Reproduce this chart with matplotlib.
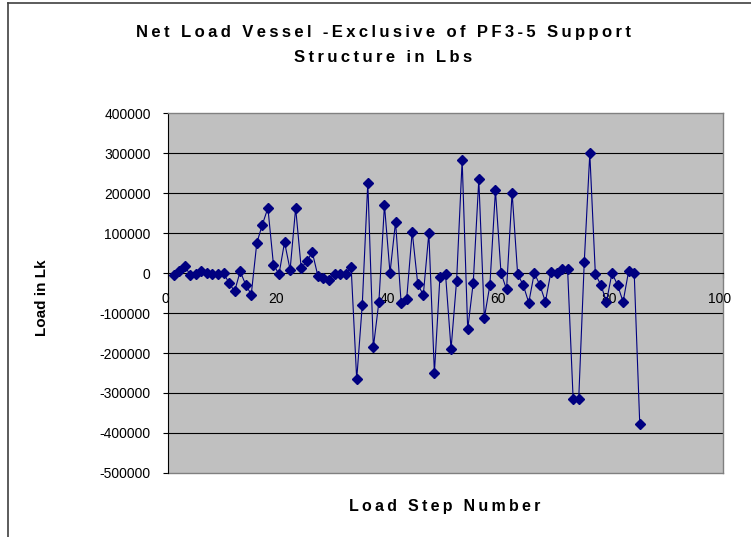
import numpy as np
import matplotlib
matplotlib.use("Agg")
import matplotlib.pyplot as plt
import matplotlib.transforms as mtransforms

plt.rcParams['font.family'] = ['Liberation Sans', 'DejaVu Sans']

# net load per load step (lbs)
load = [
    -4000, 5000, 17000, -4000, -3000, 5000, 0, -2500, -2500, 0,
    -25000, -46000, 4000, -29000, -54000, 75000, 121000, 162500, 21000, -3000,
    77000, 8000, 162500, 12500, 29000, 52000, -7000, -12500, -17000, -2500,
    -2500, -2500, 14000, -266000, -80000, 226000, -186000, -72000, 170000, 0,
    128000, -74000, -66000, 103000, -27500, -55000, 100000, -250000, -9000, -2000,
    -190000, -19000, 282000, -141000, -24000, 234000, -112000, -30000, 207000, 0,
    -41000, 201000, -3000, -30000, -74000, 0, -30000, -72000, 3000, 0,
    9000, 9000, -316000, -316000, 27000, 299000, -2500, -30000, -72000, 0,
    -30000, -72000, 5000, 0, -377000,
]
steps = np.arange(1, len(load) + 1)

x_ticks = [0, 20, 40, 60, 80, 100]
y_ticks = [-500000, -400000, -300000, -200000, -100000, 0,
           100000, 200000, 300000, 400000]

title_1 = 'Net Load Vessel -Exclusive of PF3-5 Support'
title_2 = 'Structure in Lbs'
x_label = 'Load Step Number'
y_label = 'Load in Lk'


def spaced(s):
    # loose letter spacing like the old spreadsheet chart
    return '\u2009'.join(s)


W, H = 751, 537
fig = plt.figure(figsize=(W / 100, H / 100), dpi=100)
ax = fig.add_axes([168 / W, 64 / H, 555 / W, 360 / H])
ax.set_facecolor('#c0c0c0')

for v in y_ticks[1:-1]:
    if v != 0:
        ax.axhline(v, color='black', lw=0.8, zorder=1)

ax.plot(steps, load, color='#000080', lw=0.8, marker='D', ms=5,
        mfc='#000080', mec='#000080', zorder=3)

ax.set_xlim(0, 100)
ax.set_ylim(-500000, 400000)
ax.set_xticks(x_ticks)
ax.set_xticklabels([str(v) for v in x_ticks])
ax.set_yticks(y_ticks)
ax.set_yticklabels([str(v) for v in y_ticks])

ax.spines['bottom'].set_position(('data', 0))
ax.spines['bottom'].set_color('black')
ax.spines['bottom'].set_linewidth(0.8)
ax.spines['left'].set_color('black')
ax.spines['left'].set_linewidth(0.8)
for s in ['top', 'right']:
    ax.spines[s].set_color('#808080')
    ax.spines[s].set_linewidth(1.0)
ax.axhline(-500000, color='#808080', lw=1.0, clip_on=False, zorder=2)

ax.tick_params(axis='x', direction='out', length=3.5, width=0.8,
               pad=10.5, labelsize=10, colors='black')
ax.tick_params(axis='y', direction='out', length=3.5, width=0.8,
               pad=9, labelsize=10, colors='black')

# x labels sit a little left of their ticks
shift = mtransforms.ScaledTranslation(-3 / 100, 0, fig.dpi_scale_trans)
for lab in ax.get_xticklabels():
    lab.set_transform(lab.get_transform() + shift)

fig.text(383 / W, 1 - 32 / H, spaced(title_1), ha='center', va='center',
         fontsize=12, fontweight='bold')
fig.text(383 / W, 1 - 57 / H, spaced(title_2), ha='center', va='center',
         fontsize=12, fontweight='bold')
fig.text(445 / W, 1 - 507 / H, spaced(x_label), ha='center', va='center',
         fontsize=11.5, fontweight='bold')
fig.text(42 / W, 1 - 298 / H, y_label, ha='center', va='center',
         rotation=90, fontsize=11, fontweight='bold')

# chart area border (left and top edges)
fig.add_artist(plt.Line2D([7.5 / W, 7.5 / W], [0, 1 - 2.5 / H],
                          transform=fig.transFigure, color='#404040', lw=1.2))
fig.add_artist(plt.Line2D([7.5 / W, 1], [1 - 2.5 / H, 1 - 2.5 / H],
                          transform=fig.transFigure, color='#404040', lw=1.2))

fig.savefig('out.png', dpi=100)
